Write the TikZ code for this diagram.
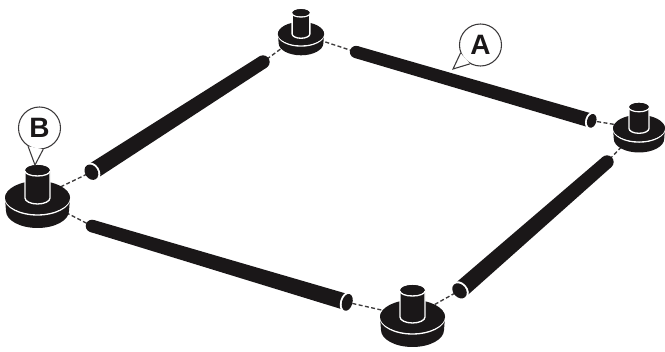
\documentclass[tikz,border=0pt]{standalone}
\usepackage{fontspec}
\setmainfont{Liberation Sans}
\usetikzlibrary{calc}
\definecolor{ink}{HTML}{1A1718}
\tikzset{
  linkline/.style={ink!85,line width=1pt,dash pattern=on 3pt off 1.8pt},
  callout/.style={circle,draw=ink!85,fill=white,line width=0.8pt,minimum size=31.5pt,inner sep=0pt,
    font=\fontsize{21}{21}\selectfont\bfseries,text=ink},
  calltail/.style={draw=ink!85,fill=white,line width=0.8pt,line join=miter},
  rim/.style={white,line width=1pt},
}
\newcommand{\lowerhalf}[3]{(-#1,#3) .. controls (-#1,#3+0.55*#2) and (-0.55*#1,#3+#2) .. (0,#3+#2) .. controls (0.55*#1,#3+#2) and (#1,#3+0.55*#2) .. (#1,#3)}
% foot: x, y, scale, post height
\newcommand{\footpiece}[4]{%
  \begin{scope}[shift={(#1,#2)},scale=#3]
    \fill[ink] (-32.5,0) -- \lowerhalf{31.5}{17}{13} -- (32.5,0) -- cycle;
    \fill[ink] (0,0) ellipse [x radius=32.5,y radius=17];
    \draw[rim] \lowerhalf{32.5}{17}{0};
    \fill[ink] (0,0) ellipse [x radius=32.5,y radius=15.6];
    \fill[ink,draw=white,line width=1pt] (-12.5,-#4) -- \lowerhalf{12.5}{6}{0} -- (12.5,-#4) -- cycle;
    \fill[ink] (0,-#4) ellipse [x radius=12.5,y radius=6];
    \draw[rim] \lowerhalf{12.5}{5}{-#4};
    \fill[ink] (0,-#4-1) ellipse [x radius=12,y radius=5];
  \end{scope}}
% tapered rod: near end, far end, half widths in pt
\newcommand{\taperrod}[4]{%
  \fill[ink] ($(#1)!#3!90:(#2)$) -- ($(#2)!#4!-90:(#1)$) -- ($(#2)!#4!90:(#1)$) -- ($(#1)!#3!-90:(#2)$) -- cycle;
  \fill[ink] (#2) circle [radius=#4];}
% cut end: coordinate, angle, side of the free end, major, minor
\newcommand{\cutend}[5]{%
  \begin{scope}[shift={(#1)},rotate=#2]
    \fill[white] (0,0) ellipse [x radius=#5+0.6,y radius=#4+1.5];
    \fill[ink] (#3*1.3,0) ellipse [x radius=#5,y radius=#4];
  \end{scope}}
\begin{document}
\begin{tikzpicture}[x=0.75pt,y=-0.75pt]
\useasboundingbox (0,0) rectangle (665,352);
\coordinate (fb) at (37.5,198);
\coordinate (ft) at (301,34);
\coordinate (fr) at (639,128.5);
\coordinate (fm) at (412.5,317);
\coordinate (e1) at (92.5,171.5);
\coordinate (e1far) at (263,62);
\coordinate (e2) at (590.5,120.5);
\coordinate (e2far) at (356,52);
\coordinate (e3) at (460.5,290);
\coordinate (e3far) at (607,162);
\coordinate (e4) at (346,302);
\coordinate (e4far) at (92,226);
% dashed links
\draw[linkline] (fb) -- (e1);
\draw[linkline] (fb) -- (e4far);
\draw[linkline] (ft) -- (e1far);
\draw[linkline] (ft) -- (e2far);
\draw[linkline] (fr) -- (e2);
\draw[linkline] (fr) -- (e3far);
\draw[linkline] (fm) -- (e3);
\draw[linkline] (fm) -- (e4);
% rods
\taperrod{e1}{e1far}{6.2pt}{5pt}
\taperrod{e2}{e2far}{5.3pt}{4.6pt}
\taperrod{e3}{e3far}{6.4pt}{5pt}
\taperrod{e4}{e4far}{6.1pt}{4.7pt}
% cut ends
\cutend{e1}{32.5}{-1}{8.2}{6.3}
\cutend{e2}{-16}{1}{7}{4.6}
\cutend{e3}{41}{-1}{8.4}{6.3}
\cutend{e4}{-16}{1}{8.6}{5.2}
% feet
\footpiece{37.5}{198}{1}{27}
\footpiece{301}{34}{0.71}{29}
\footpiece{639}{128.5}{0.8}{26}
\footpiece{412.5}{317}{1}{26}
% callouts
\node[callout] (A) at (480.5,45) {A};
\node[callout] (B) at (39.5,128) {B};
\coordinate (Atip) at (453,69);
\coordinate (Btip) at (35,165);
\path[calltail] (A.202) -- (Atip) -- (A.241);
\path[calltail] (B.238) -- (Btip) -- (B.280);
\end{tikzpicture}
\end{document}
